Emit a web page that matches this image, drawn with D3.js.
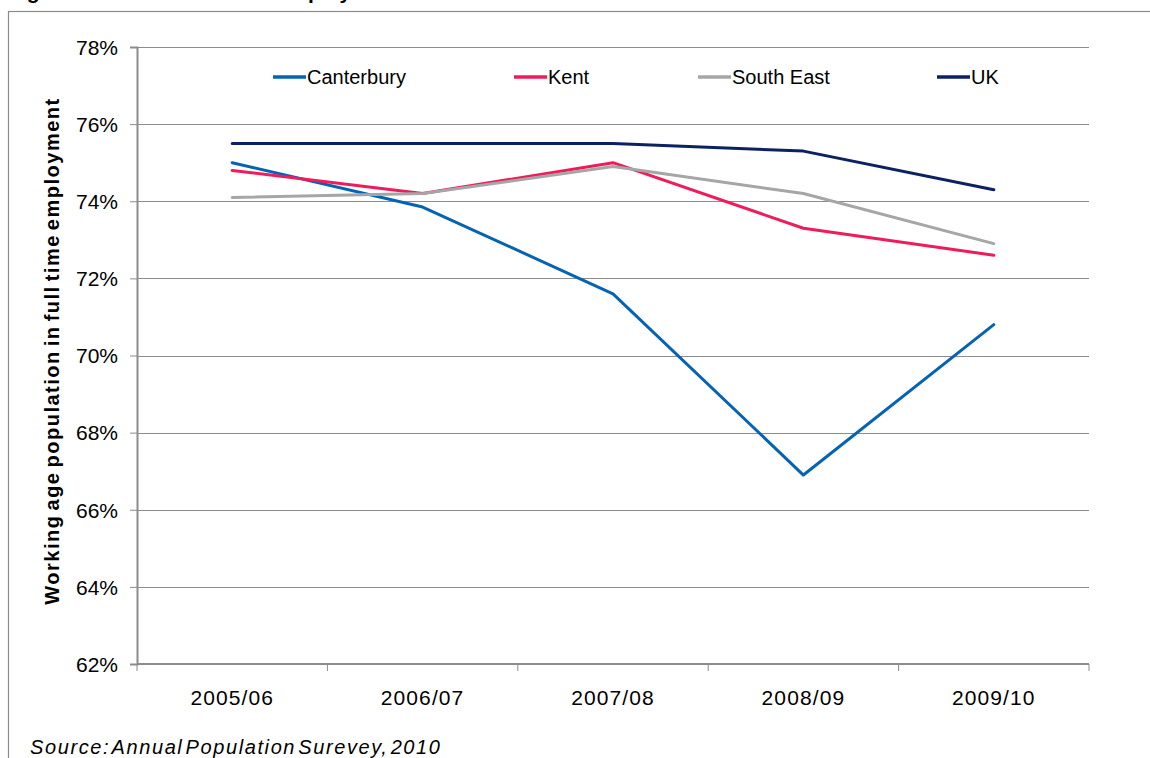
<!DOCTYPE html>
<html>
<head>
<meta charset="utf-8">
<script src="https://cdn.jsdelivr.net/npm/d3@7"></script>
<style>
  html, body { margin: 0; padding: 0; background: #fff; }
  svg { display: block; font-family: "Liberation Sans", Arial, sans-serif; }
</style>
</head>
<body>
<svg id="chart" width="1150" height="758"></svg>
<script>
// Financial years on the x axis
const years = ["2005/06", "2006/07", "2007/08", "2008/09", "2009/10"];

// Share of working-age population in full time employment (%)
const canterbury = [75.0, 73.85, 71.6, 66.9, 70.8];
const kent       = [74.8, 74.2, 75.0, 73.3, 72.6];
const southEast  = [74.1, 74.2, 74.9, 74.2, 72.9];
const uk         = [75.5, 75.5, 75.5, 75.3, 74.3];

const seriesNames = ["Canterbury", "Kent", "South East", "UK"];
const seriesColors = ["#0563b4", "#ef1b5a", "#a6a6a6", "#0b2161"];
const yTicks = [62, 64, 66, 68, 70, 72, 74, 76, 78];

const series = [canterbury, kent, southEast, uk].map((values, i) => ({
  name: seriesNames[i], color: seriesColors[i], values
}));

const svg = d3.select("#chart");
const W = 1150, H = 758;
const plot = { left: 137, right: 1089, top: 47, bottom: 664 };

// Heading above the chart frame (runs off the top of the page)
svg.append("text")
  .attr("x", 8).attr("y", -1)
  .attr("font-size", 21).attr("font-weight", "bold")
  .attr("fill", "#000")
  .text("Figure 9: Rates of full time employment");

// Chart frame
svg.append("rect")
  .attr("x", 8.5).attr("y", 11.5)
  .attr("width", W).attr("height", H)
  .attr("fill", "#fff")
  .attr("stroke", "#8c8c8c").attr("stroke-width", 1.2);

const x = d3.scaleBand().domain(years).range([plot.left, plot.right]).padding(0);
const y = d3.scaleLinear().domain([62, 78]).range([plot.bottom, plot.top]);

// Horizontal gridlines
svg.append("g").selectAll("line")
  .data(yTicks.filter(t => t !== 62))
  .join("line")
  .attr("x1", plot.left).attr("x2", plot.right)
  .attr("y1", d => Math.round(y(d)) + 0.5).attr("y2", d => Math.round(y(d)) + 0.5)
  .attr("stroke", "#8c8c8c").attr("stroke-width", 1);

// Y axis
const yAxis = d3.axisLeft(y).tickValues(yTicks).tickFormat(d => d + "%").tickSize(7).tickPadding(12);
const gy = svg.append("g").attr("transform", `translate(${plot.left},0)`).call(yAxis);
gy.select(".domain").attr("stroke", "#8c8c8c").attr("stroke-width", 2);
gy.selectAll(".tick line").attr("stroke", "#8c8c8c").attr("stroke-width", 1);
gy.selectAll(".tick text").attr("font-size", 21).attr("fill", "#000")
  .attr("font-family", "Liberation Sans, Arial, sans-serif").attr("dy", "0.35em");

// X axis with tick marks at category boundaries
const gx = svg.append("g").attr("transform", `translate(0,${plot.bottom})`);
gx.append("line")
  .attr("x1", plot.left).attr("x2", plot.right)
  .attr("stroke", "#8c8c8c").attr("stroke-width", 2);
const bounds = years.map(d => x(d)).concat([plot.right]);
gx.selectAll("line.tk").data(bounds).join("line").attr("class", "tk")
  .attr("x1", d => d).attr("x2", d => d).attr("y1", 0).attr("y2", 7)
  .attr("stroke", "#8c8c8c").attr("stroke-width", 1);
gx.selectAll("text").data(years).join("text")
  .attr("x", d => x(d) + x.bandwidth() / 2).attr("y", 41)
  .attr("text-anchor", "middle").attr("font-size", 21).attr("fill", "#000")
  .attr("letter-spacing", 1.1)
  .text(d => d);

// Series lines
const line = d3.line()
  .x((d, i) => x(years[i]) + x.bandwidth() / 2)
  .y(d => y(d));
svg.append("g").selectAll("path")
  .data(series)
  .join("path")
  .attr("d", d => line(d.values))
  .attr("fill", "none")
  .attr("stroke", d => d.color)
  .attr("stroke-width", 3)
  .attr("stroke-linejoin", "round")
  .attr("stroke-linecap", "round");

// Legend
const legendX = [273, 514, 698, 937];
const lg = svg.append("g").selectAll("g").data(series).join("g")
  .attr("transform", (d, i) => `translate(${legendX[i]},77)`);
lg.append("line").attr("x1", 0).attr("x2", 33).attr("y1", 0).attr("y2", 0)
  .attr("stroke", d => d.color).attr("stroke-width", 3.5);
lg.append("text").attr("x", 34).attr("y", 0).attr("dy", "0.35em")
  .attr("font-size", 20).attr("fill", "#000").text(d => d.name);

// Y axis title
svg.append("text")
  .attr("transform", `translate(59,351) rotate(-90)`)
  .attr("text-anchor", "middle")
  .attr("font-size", 20).attr("font-weight", "bold").attr("fill", "#000")
  .attr("letter-spacing", 1.5).attr("word-spacing", -3)
  .text("Working age population in full time employment");

// Source note
svg.append("text")
  .attr("x", 30).attr("y", 754)
  .attr("font-size", 20).attr("font-style", "italic").attr("fill", "#000")
  .attr("letter-spacing", 1.6).attr("word-spacing", -5)
  .text("Source:  Annual Population Surevey, 2010");
</script>
</body>
</html>
